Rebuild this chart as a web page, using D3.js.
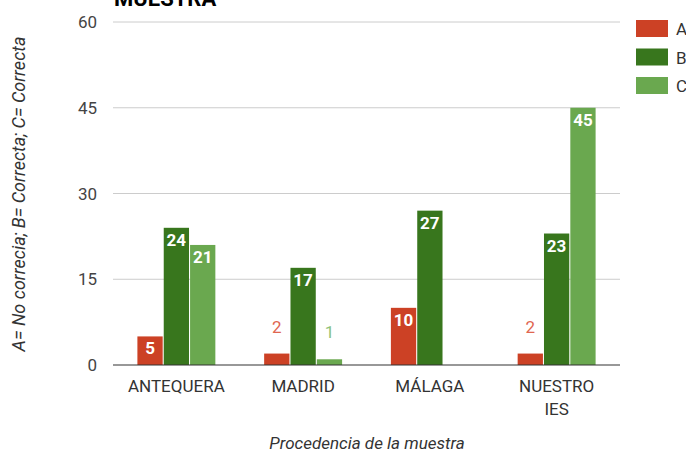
<!DOCTYPE html>
<html>
<head>
<meta charset="utf-8">
<script src="https://cdn.jsdelivr.net/npm/d3@7"></script>
<style>
  body { margin: 0; background: #fff; }
  svg { display: block; font-family: Roboto, Arial, sans-serif; }
</style>
</head>
<body>
<div class="chart"></div>
<script>
const categories = ["ANTEQUERA", "MADRID", "MÁLAGA", "NUESTRO IES"];
const seriesNames = ["A", "B", "C"];
const seriesA = [5, 2, 10, 2];
const seriesB = [24, 17, 27, 23];
const seriesC = [21, 1, 0, 45];
const yTicks = [0, 15, 30, 45, 60];

const width = 686,
  height = 453,
  plotLeft = 113,
  plotRight = 620,
  plotTop = 22,
  plotBottom = 365,
  colors = ["#cc4125", "#38761d", "#6aa84f"],
  outsideColors = ["#e06650", "#38761d", "#8cc27a"];

const svg = d3
  .select(".chart")
  .append("svg")
  .attr("width", width)
  .attr("height", height);

const xScale = d3
  .scaleBand()
  .domain(categories)
  .range([plotLeft, plotRight])
  .paddingInner(0.385)
  .paddingOuter(0.1925);

const xSub = d3
  .scaleBand()
  .domain(seriesNames)
  .range([0, xScale.bandwidth()])
  .paddingInner(0.04);

const yScale = d3.scaleLinear().domain([0, 60]).range([plotBottom, plotTop]);

// grid lines
svg
  .append("g")
  .selectAll("line")
  .data(yTicks.filter((d) => d !== 0))
  .enter()
  .append("line")
  .attr("x1", plotLeft)
  .attr("x2", plotRight)
  .attr("y1", (d) => yScale(d))
  .attr("y2", (d) => yScale(d))
  .attr("stroke", "#cccccc")
  .attr("stroke-width", 1);

// y tick labels
svg
  .append("g")
  .selectAll("text")
  .data(yTicks)
  .enter()
  .append("text")
  .attr("x", 97)
  .attr("y", (d) => yScale(d) + 6)
  .attr("text-anchor", "end")
  .style("font-size", "17px")
  .attr("fill", "#444")
  .text((d) => d);

const rows = categories.map((c, i) => ({
  cat: c,
  values: [seriesA[i], seriesB[i], seriesC[i]]
}));

const groups = svg
  .selectAll(".group")
  .data(rows)
  .enter()
  .append("g")
  .attr("transform", (d) => `translate(${xScale(d.cat)},0)`);

const cells = (d) =>
  d.values.map((v, j) => ({ key: seriesNames[j], value: v, idx: j }));

const inside = (d) => plotBottom - yScale(d.value) > 24;

groups
  .selectAll("rect")
  .data(cells)
  .enter()
  .append("rect")
  .attr("x", (d) => xSub(d.key))
  .attr("width", xSub.bandwidth())
  .attr("y", (d) => yScale(d.value))
  .attr("height", (d) => plotBottom - yScale(d.value))
  .attr("fill", (d) => colors[d.idx]);

groups
  .selectAll("text")
  .data((d) => cells(d).filter((c) => c.value > 0))
  .enter()
  .append("text")
  .attr("x", (d) => xSub(d.key) + xSub.bandwidth() / 2)
  .attr("y", (d) => (inside(d) ? yScale(d.value) + 18 : yScale(d.value) - 21))
  .attr("text-anchor", "middle")
  .style("font-size", "17px")
  .style("font-weight", (d) => (inside(d) ? "bold" : "normal"))
  .attr("fill", (d) => (inside(d) ? "#ffffff" : outsideColors[d.idx]))
  .text((d) => d.value);

// baseline
svg
  .append("line")
  .attr("x1", plotLeft)
  .attr("x2", plotRight)
  .attr("y1", plotBottom)
  .attr("y2", plotBottom)
  .attr("stroke", "#333")
  .attr("stroke-width", 1.2);

// category labels
const catLabels = svg
  .append("g")
  .selectAll("text")
  .data(categories)
  .enter()
  .append("text")
  .attr("y", 392)
  .attr("text-anchor", "middle")
  .style("font-size", "17px")
  .attr("fill", "#333");

catLabels.each(function (d) {
  const words = d === "NUESTRO IES" ? ["NUESTRO", "IES"] : [d];
  const t = d3.select(this);
  words.forEach((w, i) => {
    t.append("tspan")
      .attr("x", xScale(d) + xScale.bandwidth() / 2)
      .attr("dy", i === 0 ? 0 : 23)
      .text(w);
  });
});

// legend
const legend = svg
  .append("g")
  .selectAll("g")
  .data(seriesNames)
  .enter()
  .append("g")
  .attr("transform", (d, i) => `translate(636, ${20 + i * 28.5})`);

legend
  .append("rect")
  .attr("width", 32)
  .attr("height", 17)
  .attr("fill", (d, i) => colors[i]);

legend
  .append("text")
  .attr("x", 40)
  .attr("y", 15)
  .style("font-size", "17px")
  .attr("fill", "#333")
  .text((d) => d);

// title (clipped at the top)
svg
  .append("text")
  .attr("x", 114)
  .attr("y", 6)
  .style("font-size", "22px")
  .style("font-weight", "bold")
  .attr("fill", "#000")
  .text("MUESTRA");

// axis titles
svg
  .append("text")
  .attr("transform", "translate(25, 194) rotate(-90)")
  .attr("text-anchor", "middle")
  .style("font-size", "18px")
  .style("font-style", "italic")
  .attr("fill", "#333")
  .text("A= No correcia; B= Correcta; C= Correcta");

svg
  .append("text")
  .attr("x", 367)
  .attr("y", 449)
  .attr("text-anchor", "middle")
  .style("font-size", "17px")
  .style("font-style", "italic")
  .attr("fill", "#333")
  .text("Procedencia de la muestra");
</script>
</body>
</html>
